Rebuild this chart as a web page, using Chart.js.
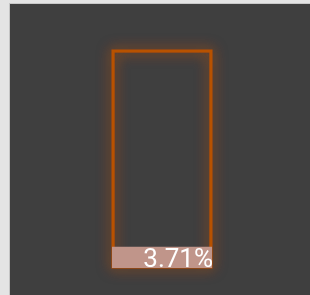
<!DOCTYPE html>
<html>
<head>
<meta charset="utf-8">
<script src="https://cdn.jsdelivr.net/npm/chart.js@4"></script>
<style>
  html, body { margin: 0; padding: 0; background: #e4e4e4; }
  #wrap { position: absolute; left: 9px; top: 3px; width: 301px; height: 292px; background: #3f3f3f; border-left: 1px solid #c4c4c4; border-top: 1px solid #c8c8c8; box-sizing: border-box; }
</style>
</head>
<body>
<div id="wrap"><canvas id="grafico"></canvas></div>
<script>
var categorias = ["valor"];
var valores = [3.71];
var maximo = [100];
var rotulo = "3.71%";

// brilho laranja em volta da barra de contorno
var brilho = {
  id: "brilho",
  beforeDatasetsDraw: function(chart){
    var bar = chart.getDatasetMeta(1).data[0];
    if (!bar) return;
    var p = bar.getProps(["x", "y", "base", "width"], true);
    var ctx = chart.ctx;
    ctx.save();
    ctx.strokeStyle = "rgba(190,80,0,0.6)";
    ctx.shadowColor = "rgba(205,85,0,0.9)";
    ctx.shadowBlur = 14;
    ctx.lineWidth = 3;
    for (var i = 0; i < 2; i++) {
      ctx.strokeRect(p.x - p.width/2 + 1, p.y + 1, p.width - 2, p.base - p.y - 2);
    }
    ctx.restore();
  },
  afterDatasetsDraw: function(chart){
    var bar = chart.getDatasetMeta(1).data[0];
    if (!bar) return;
    var p = bar.getProps(["x", "width", "base"], true);
    var ctx = chart.ctx;
    ctx.save();
    ctx.fillStyle = "#ffffff";
    ctx.font = "26px Roboto";
    ctx.textAlign = "right";
    ctx.textBaseline = "alphabetic";
    ctx.fillText(rotulo, p.x + p.width/2 + 1, p.base - 1);
    ctx.restore();
  }
};

new Chart("grafico", {
  type: "bar",
  data: {
    labels: categorias,
    datasets: [{
      data: valores,
      backgroundColor: "#c0958a",
      borderWidth: 0,
      minBarLength: 21,
      grouped: false,
      barPercentage: 1,
      categoryPercentage: 1
    }, {
      data: maximo,
      backgroundColor: "rgba(0,0,0,0)",
      borderColor: "#b85200",
      borderWidth: 2,
      borderSkipped: false,
      grouped: false,
      barPercentage: 1,
      categoryPercentage: 1
    }]
  },
  options: {
    responsive: true,
    maintainAspectRatio: false,
    animation: false,
    layout: { padding: { left: 102, right: 98, top: 46, bottom: 27 } },
    plugins: { legend: { display: false }, tooltip: { enabled: false } },
    scales: {
      x: { display: false },
      y: { display: false, min: 0, max: 100 }
    }
  },
  plugins: [brilho]
});
</script>
</body>
</html>
